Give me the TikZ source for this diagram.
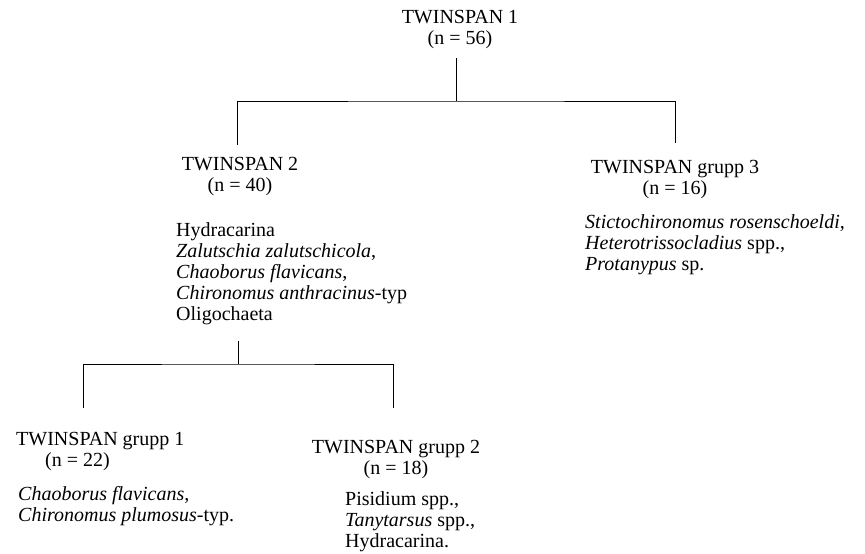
\documentclass[tikz,border=0pt]{standalone}
\usepackage{fontspec}
\setmainfont{Liberation Serif}
\usepackage{tikz}

\tikzset{
  head/.style={align=center, inner sep=0pt, anchor=north},
  headleft/.style={align=left, inner sep=0pt, anchor=north west},
  taxa/.style={align=left, inner sep=0pt, anchor=north west},
  bracket/.style={line width=0.8pt}
}

\begin{document}
\begin{tikzpicture}[x=1pt, y=-1pt, font=\fontsize{20}{21}\selectfont]
        % Fix the page to the size of the figure
        \useasboundingbox (0,0) rectangle (865,554);

        % Top level
        \node[head] (t1) at (460,10) {TWINSPAN 1\\(n = 56)};

        % Second level
        \node[head] (t2) at (240,157) {TWINSPAN 2\\(n = 40)};
        \node[taxa] (s2) at (176,222) {Hydracarina\\
            \textit{Zalutschia zalutschicola},\\
            \textit{Chaoborus flavicans},\\
            \textit{Chironomus anthracinus}-typ\\
            Oligochaeta};

        \node[head] (g3) at (675,160) {TWINSPAN grupp 3\\(n = 16)};
        \node[taxa] (s3) at (585,214) {\textit{Stictochironomus rosenschoeldi},\\
            \textit{Heterotrissocladius} spp.,\\
            \textit{Protanypus} sp.};

        % Third level
        \node[headleft] (g1) at (16,432) {TWINSPAN grupp 1\\\hspace*{29pt}(n = 22)};
        \node[taxa] (s1) at (18,486) {\textit{Chaoborus flavicans},\\
            \textit{Chironomus plumosus}-typ.};

        \node[head] (g2) at (396,440) {TWINSPAN grupp 2\\(n = 18)};
        \node[taxa] (s4) at (345,491) {Pisidium spp.,\\
            \textit{Tanytarsus} spp.,\\
            Hydracarina.};

        % Junctions of the dendrogram
        \coordinate (j1) at (456,101);
        \coordinate (j2) at (238,364);
        \coordinate (c1) at (456,58);
        \coordinate (c2) at (238,341);

        % Upper split
        \draw[bracket] (c1) -- (j1);
        \draw[bracket] (t2.north) ++(-3,-12) coordinate (e2);
        \draw[bracket] (g3.north) ++(0,-17) coordinate (e3);
        \draw[bracket] (e2) |- (j1) -| (e3);

        % Lower split
        \coordinate (e1) at (83,408);
        \coordinate (e4) at (393,408);
        \draw[bracket] (c2) -- (j2);
        \draw[bracket] (e1) |- (j2) -| (e4);
\end{tikzpicture}
\end{document}
